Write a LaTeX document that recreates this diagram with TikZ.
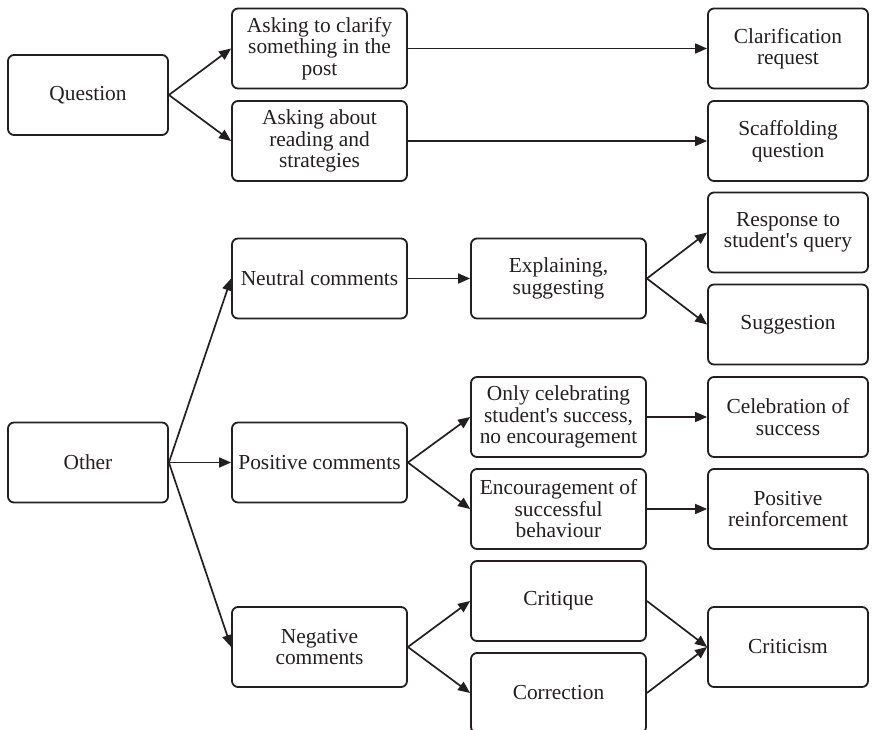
\documentclass[tikz,border=0pt]{standalone}
\usepackage{fontspec}
\setmainfont{Liberation Serif}
\usetikzlibrary{arrows.meta}
\definecolor{ink}{HTML}{231F20}
\tikzset{
  box/.style={draw=ink, line width=1.8pt, rounded corners=6pt, align=center,
    minimum height=80pt, inner sep=2pt, text=ink,
    font=\fontsize{21.4}{21.5}\selectfont},
  colA/.style={box, minimum width=160pt},
  colB/.style={box, minimum width=175pt},
  colD/.style={box, minimum width=160pt},
  link/.style={draw=ink, line width=1.7pt, -{Triangle[length=12pt,width=10pt]}}
}
\begin{document}
\begin{tikzpicture}[x=1pt,y=-1pt]
\useasboundingbox (0,0) rectangle (872,730);
% column 1
\node[colA] (q) at (88,95) {Question};
\node[colA] (o) at (88,462.5) {Other};
% column 2
\node[colB] (a1) at (319.5,48.5) {Asking to clarify\\something in the\\post};
\node[colB] (a2) at (319.5,141) {Asking about\\reading and\\strategies};
\node[colB] (nc) at (319.5,278.5) {Neutral comments};
\node[colB] (pc) at (319.5,462.5) {Positive comments};
\node[colB] (ng) at (319.5,647) {Negative\\comments};
% column 3
\node[colB] (ex) at (558.5,278.5) {Explaining,\\suggesting};
\node[colB] (oc) at (558.5,417) {Only celebrating\\student\textquotesingle s success,\\no encouragement};
\node[colB] (en) at (558.5,509) {Encouragement of\\successful\\behaviour};
\node[colB] (cq) at (558.5,601) {Critique};
\node[colB] (co) at (558.5,693) {Correction};
% column 4
\node[colD] (cr) at (788,48.5) {Clarification\\request};
\node[colD] (sq) at (788,141) {Scaffolding\\question};
\node[colD] (rs) at (788,232.5) {Response to\\student\textquotesingle s query};
\node[colD] (sg) at (788,324.5) {Suggestion};
\node[colD] (cs) at (788,417) {Celebration of\\success};
\node[colD] (pr) at (788,509) {Positive\\reinforcement};
\node[colD] (ct) at (788,647) {Criticism};
% connectors
\draw[link] (q.east) -- (a1.west);
\draw[link] (q.east) -- (a2.west);
\draw[link] (a1.east) -- (cr.west);
\draw[link] (a2.east) -- (sq.west);
\draw[link] (o.east) -- (nc.west);
\draw[link] (o.east) -- (pc.west);
\draw[link] (o.east) -- (ng.west);
\draw[link] (nc.east) -- (ex.west);
\draw[link] (ex.east) -- (rs.west);
\draw[link] (ex.east) -- (sg.west);
\draw[link] (pc.east) -- (oc.west);
\draw[link] (pc.east) -- (en.west);
\draw[link] (oc.east) -- (cs.west);
\draw[link] (en.east) -- (pr.west);
\draw[link] (ng.east) -- (cq.west);
\draw[link] (ng.east) -- (co.west);
\draw[link] (cq.east) -- (ct.west);
\draw[link] (co.east) -- (ct.west);
\end{tikzpicture}
\end{document}
